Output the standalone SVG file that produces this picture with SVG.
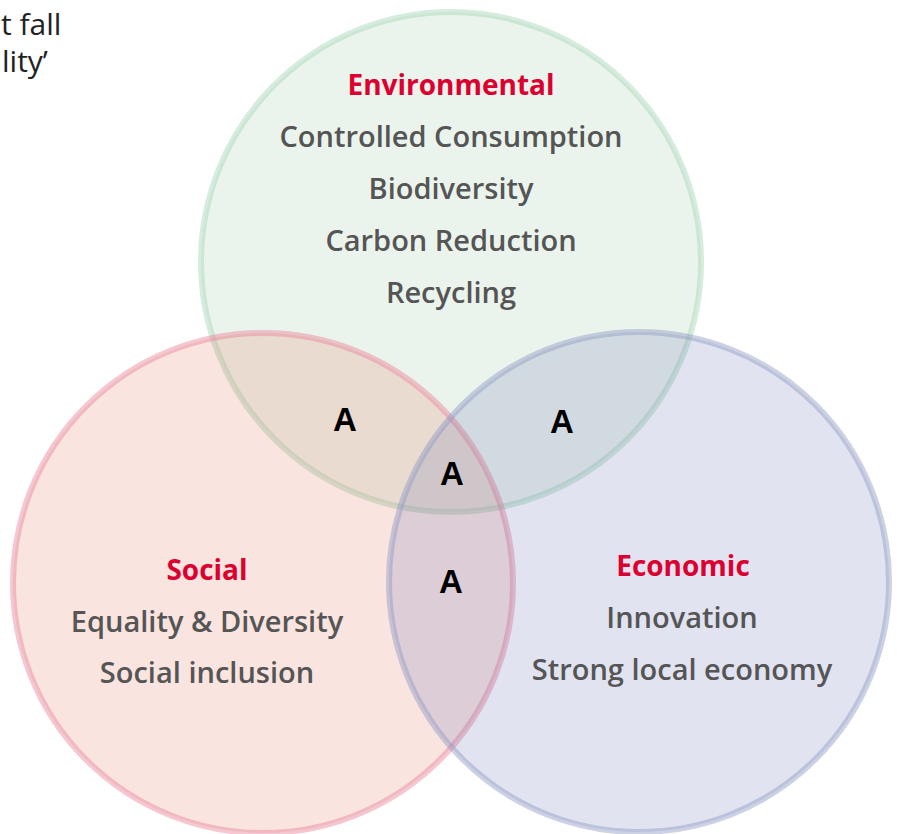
<svg xmlns="http://www.w3.org/2000/svg" width="897" height="834" viewBox="0 0 897 834">
<style>
.circ{stroke-width:6}
.head{font-family:"Open Sans","Noto Sans",sans-serif;font-weight:700;font-size:28px;fill:#dc0030;text-anchor:middle}
.body{font-family:"Open Sans","Noto Sans",sans-serif;font-weight:600;font-size:29px;fill:#555555;text-anchor:middle}
.lab{font-family:"Liberation Sans",Arial,sans-serif;font-weight:700;font-size:33px;fill:#000000;text-anchor:middle}
.para{font-family:"Open Sans","Noto Sans",sans-serif;font-size:30px;fill:#222222}
</style>
<rect width="897" height="834" fill="#ffffff"/>
<text class="para" x="1" y="35">t fall</text>
<text class="para" x="2" y="72">lity’</text>
<g id="environmental">
<circle class="circ" cx="451" cy="262" r="250" fill="rgb(155,200,160)" fill-opacity="0.2" stroke="rgb(165,212,182)" stroke-opacity="0.45"/>
</g>
<g id="social">
<circle class="circ" cx="263" cy="583" r="250" fill="rgb(225,120,100)" fill-opacity="0.2" stroke="rgb(232,130,152)" stroke-opacity="0.45"/>
</g>
<g id="economic">
<circle class="circ" cx="639" cy="582" r="250" fill="rgb(105,115,180)" fill-opacity="0.2" stroke="rgb(142,152,196)" stroke-opacity="0.45"/>
</g>
<g id="environmental-text">
<text class="head" x="451" y="95">Environmental</text>
<text class="body" x="451" y="147">Controlled Consumption</text>
<text class="body" x="451" y="199">Biodiversity</text>
<text class="body" x="451" y="251">Carbon Reduction</text>
<text class="body" x="451" y="303">Recycling</text>
</g>
<g id="social-text">
<text class="head" x="207" y="580">Social</text>
<text class="body" x="207" y="632">Equality &amp; Diversity</text>
<text class="body" x="207" y="683">Social inclusion</text>
</g>
<g id="economic-text">
<text class="head" x="683" y="576">Economic</text>
<text class="body" x="682" y="628">Innovation</text>
<text class="body" x="682" y="680">Strong local economy</text>
</g>
<g id="overlaps">
<text class="lab" x="345" y="431">A</text>
<text class="lab" x="562" y="433">A</text>
<text class="lab" x="452" y="485">A</text>
<text class="lab" x="451" y="593">A</text>
</g>
</svg>
